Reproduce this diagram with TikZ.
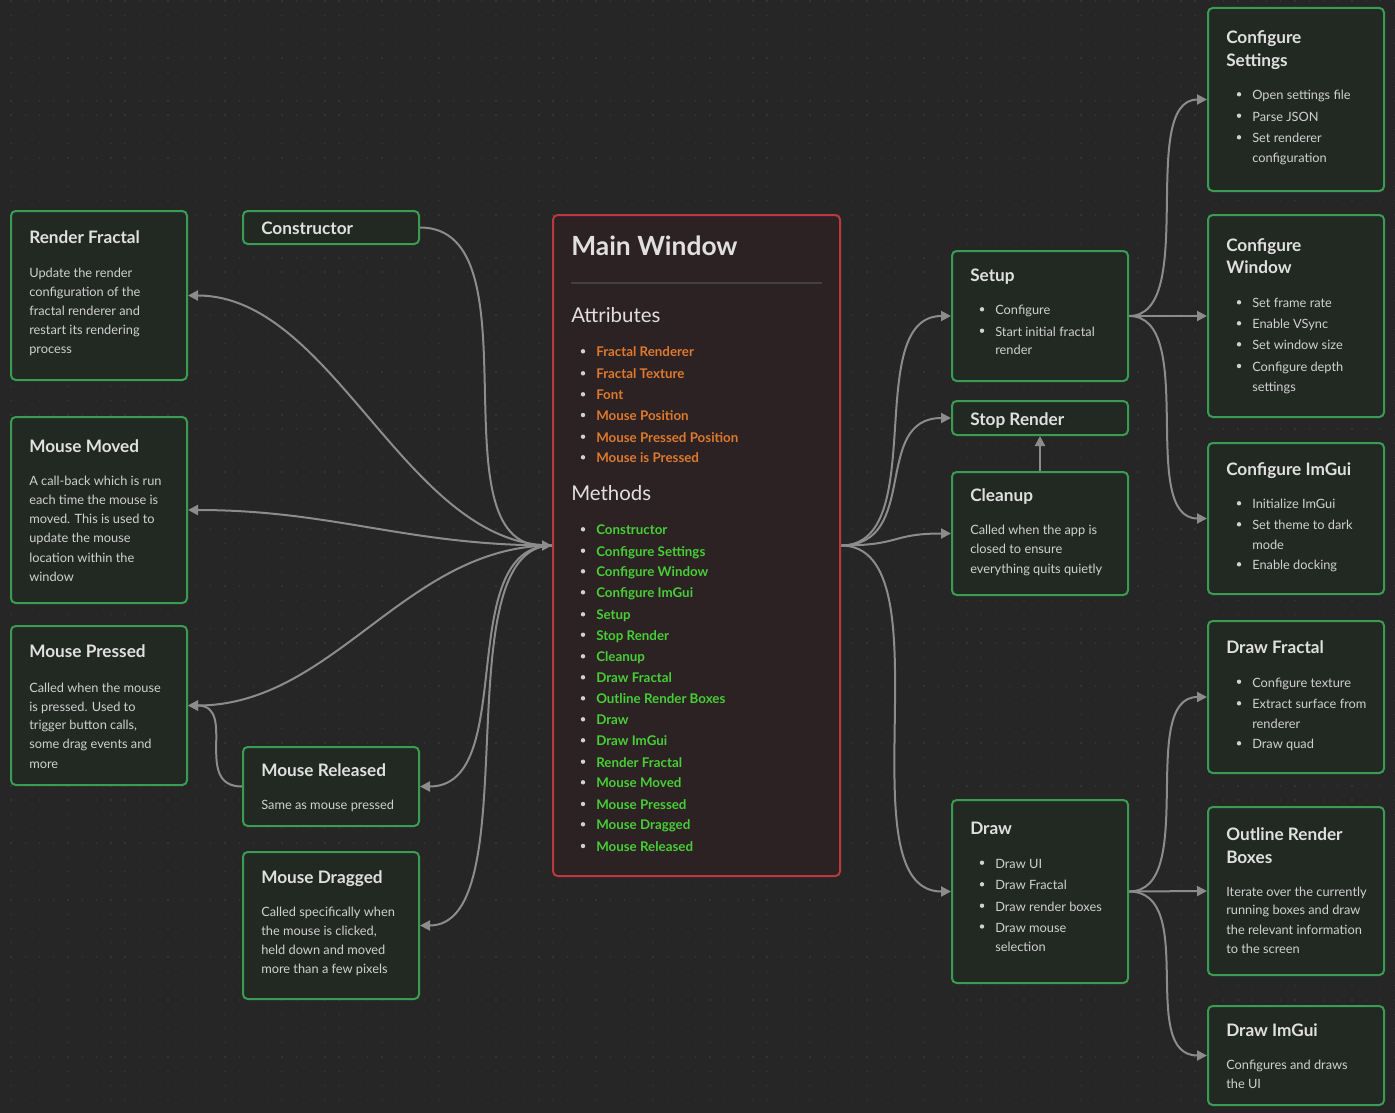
\documentclass[tikz,border=0pt]{standalone}
\usepackage{fontspec}
\setmainfont{Lato}
\usetikzlibrary{arrows.meta}
\definecolor{bgc}{HTML}{262626}
\definecolor{dotc}{HTML}{333333}
\definecolor{boxfill}{HTML}{222923}
\definecolor{boxline}{HTML}{3A9B52}
\definecolor{mainfill}{HTML}{2C2123}
\definecolor{mainline}{HTML}{B9393F}
\definecolor{titlec}{HTML}{E0E0E0}
\definecolor{bodyc}{HTML}{D0D0D0}
\definecolor{attrc}{HTML}{DE7A2E}
\definecolor{methc}{HTML}{46CF36}
\definecolor{edgec}{HTML}{8C8C8C}
\definecolor{sepc}{HTML}{463E3F}
\newcommand\ftitle{\bfseries\fontsize{12.9}{15}\selectfont}
\newcommand\fbody{\fontsize{9.6}{12}\selectfont}
\newcommand\fmain{\bfseries\fontsize{19.8}{24}\selectfont}
\newcommand\fhead{\fontsize{15.3}{18}\selectfont}
\newcommand\fitem{\bfseries\fontsize{10}{12}\selectfont}
\pgfdeclarelayer{back}
\pgfdeclarelayer{mid}
\pgfsetlayers{back,mid,main}
% box: name, style, x1, y1, x2, y2
\newcommand\bx[6]{\node[#2, minimum width={(#5-#3)*0.75pt}, minimum height={(#6-#4)*0.75pt}] (#1) at ({(#3+#5)/2},{(#4+#6)/2}) {};}
% bullet item: name, bullet x, text x, y, text, style
\newcommand\bi[6]{\node[bul] (#1-b) at (#2,#4) {}; \node[#6] (#1) at (#3,#4) {#5};}
\begin{document}
\begin{tikzpicture}[x=0.75pt,y=-0.75pt,
  gbox/.style={draw=boxline, fill=boxfill, line width=1.5pt, rounded corners=3.5pt, inner sep=0pt},
  mbox/.style={draw=mainline, fill=mainfill, line width=1.5pt, rounded corners=3.5pt, inner sep=0pt},
  txt/.style={anchor=mid west, inner sep=0pt, yshift=-1.6pt},
  ttl/.style={txt, text=titlec, font=\ftitle},
  bod/.style={txt, text=bodyc, font=\fbody},
  mttl/.style={txt, text=titlec, font=\fmain},
  mhead/.style={txt, text=titlec, font=\fhead},
  attr/.style={txt, text=attrc, font=\fitem},
  meth/.style={txt, text=methc, font=\fitem},
  bul/.style={circle, fill=bodyc, inner sep=0pt, minimum size=3.3pt},
  conn/.style={draw=edgec, line width=1.5pt, -{Triangle[length=7.5pt,width=7.5pt]}}]
\useasboundingbox (0,0) rectangle (1395,1113);
\begin{pgfonlayer}{back}
\fill[bgc] (0,0) rectangle (1395,1113);
\foreach \k in {0,...,77}
  \draw[dotc, line width=1pt, dash pattern=on 1pt off 9.70pt] (10.3,{1+\k*14.27}) -- (1395,{1+\k*14.27});
\end{pgfonlayer}

% ---------- boxes ----------
\bx{rf}{gbox}{11}{211}{187}{380}
\bx{ctor}{gbox}{243}{211}{419}{244}
\bx{mm}{gbox}{11}{417}{187}{603}
\bx{mp}{gbox}{11}{626}{187}{785}
\bx{mr}{gbox}{243}{747}{419}{826}
\bx{md}{gbox}{243}{852}{419}{999}
\bx{mw}{mbox}{553}{215}{840}{876}
\bx{setup}{gbox}{952}{251}{1128}{381}
\bx{stop}{gbox}{952}{401}{1128}{435}
\bx{clean}{gbox}{952}{472}{1128}{595}
\bx{drw}{gbox}{952}{800}{1128}{983}
\bx{cs}{gbox}{1208}{8}{1384}{191}
\bx{cw}{gbox}{1208}{215}{1384}{417}
\bx{ci}{gbox}{1208}{443}{1384}{594}
\bx{df}{gbox}{1208}{621}{1384}{773}
\bx{orb}{gbox}{1208}{807}{1384}{975}
\bx{dig}{gbox}{1208}{1006}{1384}{1105}

% ---------- connectors ----------
\begin{pgfonlayer}{mid}
\draw[conn] (ctor.east) .. controls +(120,0) and +(-120,0) .. (mw.west);
\draw[conn] (mw.west) .. controls +(-146,0) and +(146,0) .. (rf.east);
\draw[conn] (mw.west) .. controls +(-146,0) and +(146,0) .. (mm.east);
\draw[conn] (mw.west) .. controls +(-146,0) and +(146,0) .. (mp.east);
\draw[conn] (mw.west) .. controls +(-100,0) and +(100,0) .. (mr.east);
\draw[conn] (mw.west) .. controls +(-110,0) and +(110,0) .. (md.east);
\draw[conn] (mr.west) .. controls +(-50,0) and +(50,0) .. (mp.east);
\draw[conn] (mw.east) .. controls +(90,0) and +(-90,0) .. (setup.west);
\draw[conn] (mw.east) .. controls +(80,0) and +(-80,0) .. (stop.west);
\draw[conn] (mw.east) .. controls +(60,0) and +(-60,0) .. (clean.west);
\draw[conn] (mw.east) .. controls +(110,0) and +(-110,0) .. (drw.west);
\draw[conn] (clean.north) -- (stop.south);
\draw[conn] (setup.east) .. controls +(70,0) and +(-70,0) .. (cs.west);
\draw[conn] (setup.east) -- (cw.west);
\draw[conn] (setup.east) .. controls +(70,0) and +(-70,0) .. (ci.west);
\draw[conn] (drw.east) .. controls +(70,0) and +(-70,0) .. (df.west);
\draw[conn] (drw.east) -- (orb.west);
\draw[conn] (drw.east) .. controls +(70,0) and +(-70,0) .. (dig.west);
\end{pgfonlayer}

% ---------- left texts ----------
\node[ttl] (rf-t) at (29,238) {Render Fractal};
\node[bod] (rf-1) at (29,271.5) {Update the render};
\node[bod] (rf-2) at (29,290.7) {configuration of the};
\node[bod] (rf-3) at (29,309.7) {fractal renderer and};
\node[bod] (rf-4) at (29,329) {restart its rendering};
\node[bod] (rf-5) at (29,348) {process};

\node[ttl] (ctor-t) at (261,229) {Constructor};

\node[ttl] (mm-t) at (29,446.7) {Mouse Moved};
\node[bod] (mm-1) at (29,480) {A call-back which is run};
\node[bod] (mm-2) at (29,499) {each time the mouse is};
\node[bod] (mm-3) at (29,517.7) {moved. This is used to};
\node[bod] (mm-4) at (29,537) {update the mouse};
\node[bod] (mm-5) at (29,556.7) {location within the};
\node[bod] (mm-6) at (29,575.7) {window};

\node[ttl] (mp-t) at (29,652.3) {Mouse Pressed};
\node[bod] (mp-1) at (29,686.7) {Called when the mouse};
\node[bod] (mp-2) at (29,705.7) {is pressed. Used to};
\node[bod] (mp-3) at (29,724.3) {trigger button calls,};
\node[bod] (mp-4) at (29,743.3) {some drag events and};
\node[bod] (mp-5) at (29,762.7) {more};

\node[ttl] (mr-t) at (261,770.7) {Mouse Released};
\node[bod] (mr-1) at (261,804.3) {Same as mouse pressed};

\node[ttl] (md-t) at (261,877.7) {Mouse Dragged};
\node[bod] (md-1) at (261,910.7) {Called specifically when};
\node[bod] (md-2) at (261,929.7) {the mouse is clicked,};
\node[bod] (md-3) at (261,949) {held down and moved};
\node[bod] (md-4) at (261,968.3) {more than a few pixels};

% ---------- main window ----------
\node[mttl] (mw-t) at (571,250) {Main Window};
\draw[sepc, line width=0.9pt] (571,283) -- (822,283);
\node[mhead] (mw-a) at (571,316.7) {Attributes};
\bi{a1}{583}{596}{351.3}{Fractal Renderer}{attr}
\bi{a2}{583}{596}{373.3}{Fractal Texture}{attr}
\bi{a3}{583}{596}{394.3}{Font}{attr}
\bi{a4}{583}{596}{415}{Mouse Position}{attr}
\bi{a5}{583}{596}{436.7}{Mouse Pressed Position}{attr}
\bi{a6}{583}{596}{457.3}{Mouse is Pressed}{attr}
\node[mhead] (mw-m) at (571,495) {Methods};
\bi{m1}{583}{596}{529.3}{Constructor}{meth}
\bi{m2}{583}{596}{550.7}{Configure Settings}{meth}
\bi{m3}{583}{596}{571.3}{Configure Window}{meth}
\bi{m4}{583}{596}{592.3}{Configure ImGui}{meth}
\bi{m5}{583}{596}{614.3}{Setup}{meth}
\bi{m6}{583}{596}{634.7}{Stop Render}{meth}
\bi{m7}{583}{596}{656.3}{Cleanup}{meth}
\bi{m8}{583}{596}{677.3}{Draw Fractal}{meth}
\bi{m9}{583}{596}{698.3}{Outline Render Boxes}{meth}
\bi{m10}{583}{596}{719.3}{Draw}{meth}
\bi{m11}{583}{596}{740.3}{Draw ImGui}{meth}
\bi{m12}{583}{596}{761.7}{Render Fractal}{meth}
\bi{m13}{583}{596}{782.3}{Mouse Moved}{meth}
\bi{m14}{583}{596}{804}{Mouse Pressed}{meth}
\bi{m15}{583}{596}{824.3}{Mouse Dragged}{meth}
\bi{m16}{583}{596}{846}{Mouse Released}{meth}

% ---------- middle right ----------
\node[ttl] (setup-t) at (970,276) {Setup};
\bi{s1}{982}{995}{309.3}{Configure}{bod}
\bi{s2}{982}{995}{330.7}{Start initial fractal}{bod}
\node[bod] (s2b) at (995,349.3) {render};

\node[ttl] (stop-t) at (970,420) {Stop Render};

\node[ttl] (clean-t) at (970,496) {Cleanup};
\node[bod] (cl-1) at (970,529.3) {Called when the app is};
\node[bod] (cl-2) at (970,548.3) {closed to ensure};
\node[bod] (cl-3) at (970,567.7) {everything quits quietly};

\node[ttl] (drw-t) at (970,829) {Draw};
\bi{d1}{982}{995}{862.7}{Draw UI}{bod}
\bi{d2}{982}{995}{884.3}{Draw Fractal}{bod}
\bi{d3}{982}{995}{905.7}{Draw render boxes}{bod}
\bi{d4}{982}{995}{926.5}{Draw mouse}{bod}
\node[bod] (d4b) at (995,946) {selection};

% ---------- far right ----------
\node[ttl] (cs-t1) at (1226,38.3) {Configure};
\node[ttl] (cs-t2) at (1226,61) {Settings};
\bi{c1}{1239}{1252}{94.3}{Open settings file}{bod}
\bi{c2}{1239}{1252}{115.7}{Parse JSON}{bod}
\bi{c3}{1239}{1252}{137.3}{Set renderer}{bod}
\node[bod] (c3b) at (1252,156.7) {configuration};

\node[ttl] (cw-t1) at (1226,246) {Configure};
\node[ttl] (cw-t2) at (1226,268.3) {Window};
\bi{w1}{1239}{1252}{302.3}{Set frame rate}{bod}
\bi{w2}{1239}{1252}{323.3}{Enable VSync}{bod}
\bi{w3}{1239}{1252}{344.3}{Set window size}{bod}
\bi{w4}{1239}{1252}{366}{Configure depth}{bod}
\node[bod] (w4b) at (1252,386) {settings};

\node[ttl] (ci-t) at (1226,470) {Configure ImGui};
\bi{i1}{1239}{1252}{503.3}{Initialize ImGui}{bod}
\bi{i2}{1239}{1252}{524.3}{Set theme to dark}{bod}
\node[bod] (i2b) at (1252,544.3) {mode};
\bi{i3}{1239}{1252}{564.3}{Enable docking}{bod}

\node[ttl] (df-t) at (1226,648.3) {Draw Fractal};
\bi{f1}{1239}{1252}{681.7}{Configure texture}{bod}
\bi{f2}{1239}{1252}{703.3}{Extract surface from}{bod}
\node[bod] (f2b) at (1252,722.7) {renderer};
\bi{f3}{1239}{1252}{743.3}{Draw quad}{bod}

\node[ttl] (orb-t1) at (1226,835.3) {Outline Render};
\node[ttl] (orb-t2) at (1226,858) {Boxes};
\node[bod] (orb-1) at (1226,890.7) {Iterate over the currently};
\node[bod] (orb-2) at (1226,909.3) {running boxes and draw};
\node[bod] (orb-3) at (1226,929) {the relevant information};
\node[bod] (orb-4) at (1226,948.3) {to the screen};

\node[ttl] (dig-t) at (1226,1030.7) {Draw ImGui};
\node[bod] (dig-1) at (1226,1064) {Configures and draws};
\node[bod] (dig-2) at (1226,1082.7) {the UI};
\end{tikzpicture}
\end{document}
